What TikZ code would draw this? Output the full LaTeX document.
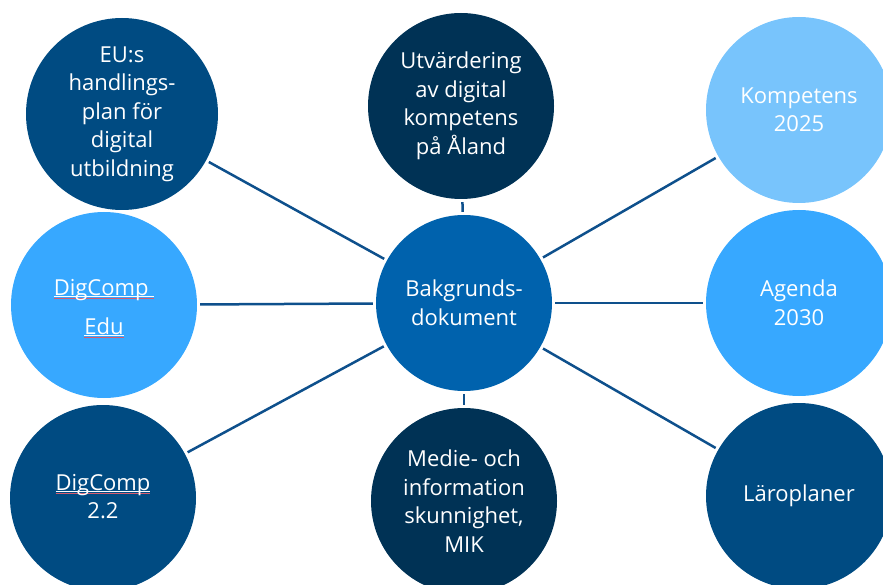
\documentclass[tikz,border=0pt]{standalone}
\usepackage{fontspec}
\setmainfont{Open Sans}
\definecolor{cmid}{RGB}{0,75,130}
\definecolor{cdark}{RGB}{0,50,85}
\definecolor{clight}{RGB}{120,196,252}
\definecolor{cbright}{RGB}{55,168,255}
\definecolor{ccenter}{RGB}{0,98,173}
\definecolor{clink}{RGB}{14,80,140}
\definecolor{cspell}{RGB}{215,90,110}
\newcommand\spellmark[1]{\setbox0\hbox{#1}\leavevmode\rlap{\color{white}\rule[-2.2pt]{\wd0}{0.8pt}}\rlap{\color{cspell}\rule[-2.9pt]{\wd0}{0.4pt}}\box0}
\begin{document}
\begin{tikzpicture}[x=1pt,y=-1pt,
  txt/.style={text=white, font=\fontsize{22}{28.5}\selectfont},
  bub/.style={circle, inner sep=0pt, minimum size=186pt, align=center, txt},
  link/.style={draw=clink, line width=2.5pt, shorten <=3pt, shorten >=3pt}]
\useasboundingbox (0,0) rectangle (883,585);
\clip (0,0) rectangle (883,585);
\node[bub, fill=ccenter, minimum size=176pt] (c) at (464,303) {Bakgrunds-\\dokument};
\node[bub, fill=cmid, minimum size=192pt] (eu) at (122,114) {EU:s\\handlings-\\plan för\\digital\\utbildning};
\node[bub, fill=cdark] (utv) at (461,106) {Utvärdering\\av digital\\kompetens\\på Åland};
\node[bub, fill=clight] (komp) at (799,110) {Kompetens\\2025};
\node[bub, fill=cbright] (edu) at (104,305) {};
\node[txt, anchor=base] (edu1) at (104,295) {\spellmark{DigComp\ }};
\node[txt, anchor=base] (edu2) at (104,334) {\spellmark{Edu}};
\node[bub, fill=cbright] (agenda) at (799,303) {Agenda\\2030};
\node[bub, fill=cmid] (dc22) at (103,498) {};
\node[txt, anchor=base] (dc1) at (103,490) {\spellmark{DigComp}};
\node[txt, anchor=base] (dc2) at (103,518) {2.2};
\node[bub, fill=cdark] (mik) at (464,501) {Medie- och\\information\\skunnighet,\\MIK};
\node[bub, fill=cmid] (laro) at (799,496) {Läroplaner};
\foreach \n in {eu,utv,komp,edu,agenda,dc22,mik,laro}
  \draw[link] (c) -- (\n);
\end{tikzpicture}
\end{document}
